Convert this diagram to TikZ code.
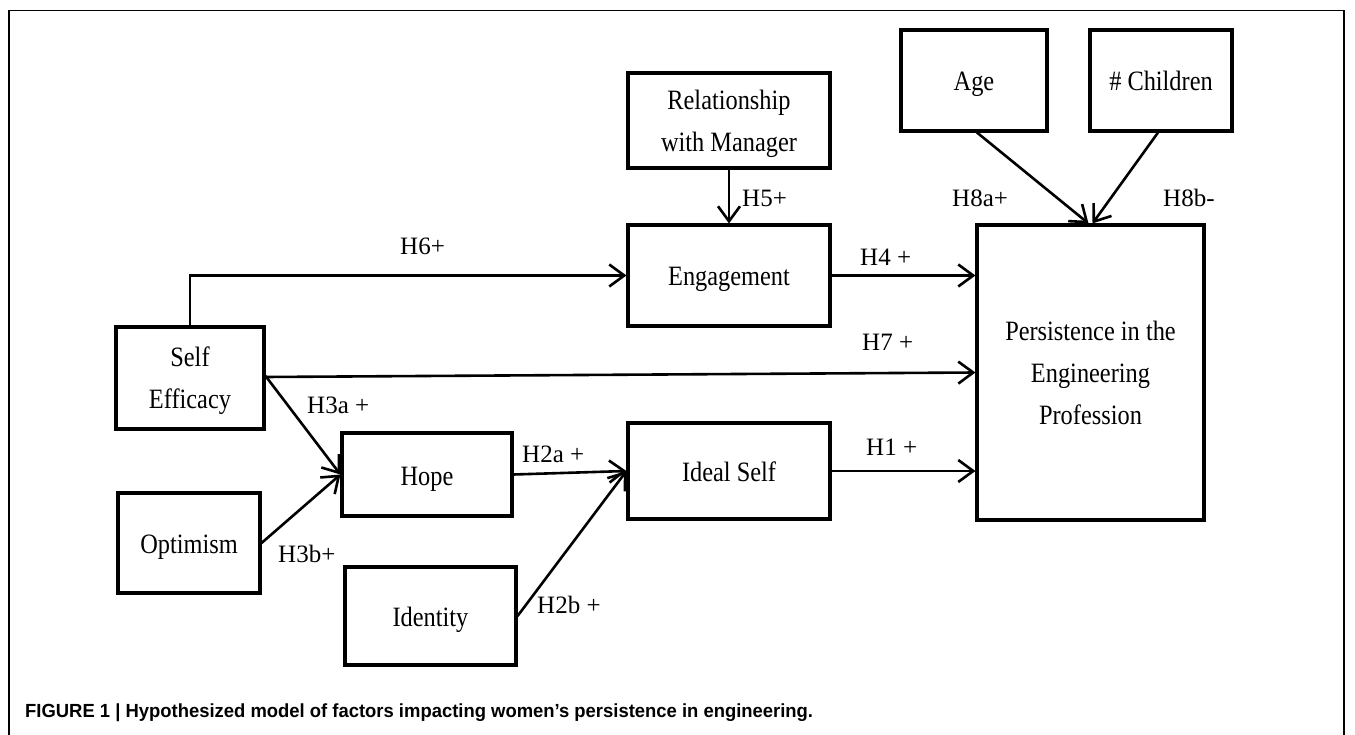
\documentclass[tikz,border=0pt]{standalone}
\usepackage{fontspec}
\setmainfont{Liberation Serif}[FakeStretch=0.87]
\newfontfamily\labfont{Liberation Serif}
\newfontfamily\capfont{Liberation Sans}[FakeStretch=0.97]
\usetikzlibrary{arrows.meta,calc}
\begin{document}
\begin{tikzpicture}[x=1pt,y=-1pt,
  box/.style={draw,line width=3.1pt,rectangle,inner sep=0pt,align=center,text depth=0pt,
    font=\fontsize{28}{42}\selectfont},
  one/.style={text height=21pt},
  conn/.style={line width=2.6pt,-{Straight Barb[length=15pt,width=22pt]}},
  lab/.style={anchor=base west,inner sep=0pt,font=\labfont\fontsize{25}{30}\selectfont}]
\useasboundingbox (0,0) rectangle (1355,735);
\draw[line width=1.5pt] (9,740) -- (9,10.5) -- (1344,10.5) -- (1344,740);
% boxes
\node[box,minimum width=202pt,minimum height=95pt]  (rel)   at (729,120.5) {Relationship\\with Manager};
\node[box,one,minimum width=146pt,minimum height=101pt] (age)   at (974,80.5)  {Age};
\node[box,one,minimum width=142pt,minimum height=101pt] (chi)   at (1161,80.5) {\# Children};
\node[box,one,minimum width=202pt,minimum height=101pt] (eng)   at (729,275.5) {Engagement};
\node[box,minimum width=227pt,minimum height=295pt] (per)   at (1090.5,372.5) {Persistence in the\\Engineering\\Profession};
\node[box,minimum width=148pt,minimum height=102pt] (se)    at (190,378)   {Self\\Efficacy};
\node[box,one,minimum width=170pt,minimum height=83pt]  (hope)  at (427,474.5) {Hope};
\node[box,one,minimum width=202pt,minimum height=96pt]  (ideal) at (729,471)   {Ideal Self};
\node[box,one,minimum width=142pt,minimum height=100pt] (opt)   at (189,543)   {Optimism};
\node[box,one,minimum width=171pt,minimum height=98pt]  (iden)  at (430.5,616) {Identity};
% connectors
\draw[conn] (rel.south) -- (eng.north);
\draw[conn] ([xshift=3pt]age.south) -- ([xshift=-2pt]per.north);
\draw[conn] ([xshift=-3pt]chi.south) -- ([xshift=2pt]per.north);
\draw[conn] (eng.east) -- (eng.east -| per.west);
\draw[conn] (se.north) |- (eng.west);
\draw[conn] ([yshift=1pt]se.east) -- (per.west);
\draw[conn] ([yshift=2pt]se.east) -- (hope.west);
\draw[conn] (opt.east) -- (hope.west);
\draw[conn] (hope.east) -- (ideal.west);
\draw[conn] (iden.east) -- (ideal.west);
\draw[conn] (ideal.east) -- (ideal.east -| per.west);
% labels
\node[lab] (l6)  at (400,255) {H6+};
\node[lab] (l5)  at (742,207) {H5+};
\node[lab] (l8a) at (952,207) {H8a+};
\node[lab] (l8b) at (1163,207) {H8b-};
\node[lab] (l4)  at (860,266) {H4 +};
\node[lab] (l7)  at (862,350) {H7 +};
\node[lab] (l3a) at (307,413) {H3a +};
\node[lab] (l2a) at (522,462) {H2a +};
\node[lab] (l1)  at (866,455) {H1 +};
\node[lab] (l3b) at (278,562) {H3b+};
\node[lab] (l2b) at (537,613) {H2b +};
% caption
\node[anchor=base west,inner sep=0pt,font=\capfont\bfseries\fontsize{19}{22}\selectfont] (cap) at (25,717)
  {FIGURE 1 | Hypothesized model of factors impacting women’s persistence in engineering.};
\end{tikzpicture}
\end{document}
